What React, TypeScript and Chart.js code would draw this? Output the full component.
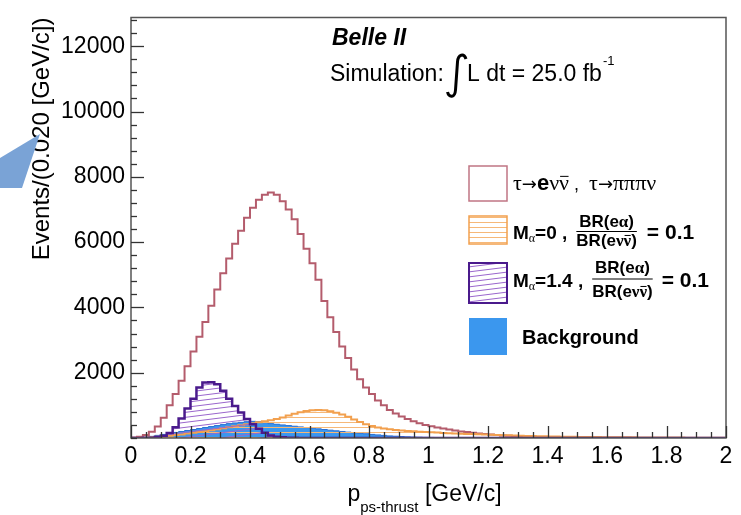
import React, { useEffect, useRef } from "react";
import { Chart, registerables } from "chart.js";

Chart.register(...registerables);

// ---------- axis / binning ----------
const X_MIN = 0;
const X_MAX = 2;
const BIN_WIDTH = 0.02;
const Y_MAX = 12880;
const X_TICK_VALUES = [0, 0.2, 0.4, 0.6, 0.8, 1, 1.2, 1.4, 1.6, 1.8, 2];
const X_TICK_LABELS = ["0", "0.2", "0.4", "0.6", "0.8", "1", "1.2", "1.4", "1.6", "1.8", "2"];
const Y_TICK_VALUES = [2000, 4000, 6000, 8000, 10000, 12000];
const Y_TICK_LABELS = ["2000", "4000", "6000", "8000", "10000", "12000"];
const X_MINOR_STEP = 0.05;
const Y_MINOR_STEP = 400;

// ---------- series (events per 0.02 GeV/c bin, 100 bins from 0 to 2) ----------
const sigTauEnu = [
  5, 15, 40, 90, 190, 350, 620, 1000, 1350, 1750,
  2200, 2650, 3100, 3550, 4050, 4550, 5050, 5500, 5950, 6350,
  6750, 7050, 7300, 7450, 7520, 7450, 7250, 7000, 6700, 6250,
  5800, 5350, 4850, 4200, 3700, 3250, 2800, 2450, 2100, 1800,
  1550, 1350, 1150, 1000, 860, 750, 660, 580, 510, 450,
  400, 360, 320, 290, 260, 230, 200, 180, 160, 140,
  125, 110, 95, 80, 70, 60, 50, 42, 35, 30,
  25, 22, 19, 16, 14, 12, 10, 9, 8, 7,
  6, 5, 5, 4, 4, 3, 3, 3, 2, 2,
  2, 2, 2, 1, 1, 1, 1, 1, 1, 1,
];

const sigM0 = [
  0, 2, 5, 10, 20, 35, 50, 70, 90, 110,
  135, 160, 185, 210, 240, 270, 300, 330, 360, 390,
  420, 450, 480, 510, 540, 580, 630, 690, 740, 790,
  825, 850, 858, 850, 820, 775, 720, 650, 570, 490,
  420, 365, 325, 292, 266, 246, 230, 215, 205, 195,
  185, 175, 165, 155, 148, 140, 133, 126, 120, 114,
  108, 100, 94, 88, 82, 76, 70, 65, 60, 56,
  52, 48, 45, 42, 39, 36, 34, 32, 30, 28,
  26, 24, 23, 22, 21, 20, 19, 18, 17, 16,
  15, 14, 13, 12, 11, 10, 9, 8, 7, 6,
];

const sigM14 = [
  0, 0, 2, 5, 10, 30, 70, 150, 330, 600,
  900, 1200, 1550, 1700, 1710, 1650, 1450, 1200, 980, 780,
  580, 420, 280, 160, 80, 40, 20, 10, 5, 3,
  2, 1, 0, 0, 0, 0, 0, 0, 0, 0,
  0, 0, 0, 0, 0, 0, 0, 0, 0, 0,
  0, 0, 0, 0, 0, 0, 0, 0, 0, 0,
  0, 0, 0, 0, 0, 0, 0, 0, 0, 0,
  0, 0, 0, 0, 0, 0, 0, 0, 0, 0,
  0, 0, 0, 0, 0, 0, 0, 0, 0, 0,
  0, 0, 0, 0, 0, 0, 0, 0, 0, 0,
];

const background = [
  0, 0, 5, 20, 50, 80, 110, 140, 170, 200,
  230, 260, 290, 320, 350, 380, 410, 440, 460, 480,
  500, 510, 500, 470, 440, 420, 400, 380, 360, 340,
  320, 300, 280, 260, 240, 220, 200, 180, 160, 145,
  130, 110, 95, 80, 65, 55, 45, 35, 30, 25,
  20, 17, 14, 12, 10, 8, 7, 6, 5, 4,
  3, 3, 2, 2, 1, 1, 0, 0, 0, 0,
  0, 0, 0, 0, 0, 0, 0, 0, 0, 0,
  0, 0, 0, 0, 0, 0, 0, 0, 0, 0,
  0, 0, 0, 0, 0, 0, 0, 0, 0, 0,
];

// ---------- styles ----------
const SANS = '"Liberation Sans", Arial, Helvetica, sans-serif';
const SERIF = '"Liberation Serif", "Times New Roman", serif';
const PINK = "#b45c6c";
const ORANGE = "#f2a04e";
const ORANGE_HATCH = "#f6b878";
const PURPLE = "#4a1a8c";
const PURPLE_HATCH = "#9a66cc";
const BLUE = "#3b97ee";
const BLUE_EDGE = "#2a6fd2";
const FRAME = "#555555";

function toSteps(values: number[]) {
  const pts = values.map((v, i) => ({ x: X_MIN + i * BIN_WIDTH, y: v }));
  pts.push({ x: X_MIN + values.length * BIN_WIDTH, y: values[values.length - 1] });
  return pts;
}

function makeHatch(color: string, slope: boolean): CanvasPattern | string {
  const c = document.createElement("canvas");
  const w = slope ? 40 : 8;
  const h = 5;
  c.width = w;
  c.height = h;
  const g = c.getContext("2d");
  if (!g) return color;
  g.strokeStyle = color;
  g.lineWidth = 1;
  for (let k = -1; k <= 1; k++) {
    g.beginPath();
    if (slope) {
      g.moveTo(0, 5 + k * 5 + 0.5);
      g.lineTo(40, k * 5 + 0.5);
    } else {
      g.moveTo(0, 2.5 + k * 5);
      g.lineTo(w, 2.5 + k * 5);
    }
    g.stroke();
  }
  const p = g.createPattern(c, "repeat");
  return p || color;
}

type Run = { t: string; f: string; dy?: number; bar?: boolean };

function runsWidth(ctx: CanvasRenderingContext2D, runs: Run[]) {
  let w = 0;
  for (const r of runs) {
    ctx.font = r.f;
    w += ctx.measureText(r.t).width;
  }
  return w;
}

function drawRuns(ctx: CanvasRenderingContext2D, x: number, y: number, runs: Run[], color: string) {
  ctx.fillStyle = color;
  ctx.strokeStyle = color;
  ctx.textAlign = "left";
  ctx.textBaseline = "alphabetic";
  for (const r of runs) {
    ctx.font = r.f;
    const w = ctx.measureText(r.t).width;
    ctx.fillText(r.t, x, y + (r.dy ?? 0));
    if (r.bar) {
      const m = r.f.match(/(\d+(\.\d+)?)px/);
      const size = m ? parseFloat(m[1]) : 16;
      const by = y + (r.dy ?? 0) - size * 0.62;
      ctx.lineWidth = 1;
      ctx.beginPath();
      ctx.moveTo(x + 1, by);
      ctx.lineTo(x + w - 0.5, by);
      ctx.stroke();
    }
    x += w;
  }
  return x;
}

function drawFraction(
  ctx: CanvasRenderingContext2D,
  x: number,
  num: Run[],
  den: Run[],
  numY: number,
  lineY: number,
  denY: number,
) {
  const nw = runsWidth(ctx, num);
  const dw = runsWidth(ctx, den);
  const fw = Math.max(nw, dw);
  drawRuns(ctx, x + (fw - nw) / 2, numY, num, "#000");
  drawRuns(ctx, x + (fw - dw) / 2, denY, den, "#000");
  ctx.strokeStyle = "#000";
  ctx.lineWidth = 1.2;
  ctx.beginPath();
  ctx.moveTo(x, lineY);
  ctx.lineTo(x + fw, lineY);
  ctx.stroke();
  return x + fw;
}

const decorPlugin = {
  id: "decor",
  afterDatasetsDraw(chart: any) {
    const ctx: CanvasRenderingContext2D = chart.ctx;
    const { left, right, top, bottom } = chart.chartArea;
    const xs = chart.scales.x;
    const ys = chart.scales.y;
    ctx.save();

    // frame
    ctx.strokeStyle = FRAME;
    ctx.lineWidth = 1.5;
    ctx.strokeRect(left, top, right - left, bottom - top);

    // ticks (inside)
    ctx.strokeStyle = "#333";
    ctx.lineWidth = 1.3;
    const nY = Math.floor(Y_MAX / Y_MINOR_STEP);
    for (let i = 0; i <= nY; i++) {
      const v = i * Y_MINOR_STEP;
      const major = Y_TICK_VALUES.includes(v);
      const py = Math.round(ys.getPixelForValue(v)) + 0.5;
      ctx.beginPath();
      ctx.moveTo(left, py);
      ctx.lineTo(left + (major ? 13 : 6), py);
      ctx.stroke();
    }
    const nX = Math.round((X_MAX - X_MIN) / X_MINOR_STEP);
    for (let i = 0; i <= nX; i++) {
      const v = X_MIN + i * X_MINOR_STEP;
      const major = i % 4 === 0;
      const px = Math.round(xs.getPixelForValue(v)) + 0.5;
      ctx.beginPath();
      ctx.moveTo(px, bottom);
      ctx.lineTo(px, bottom - (major ? 12 : 6));
      ctx.stroke();
    }

    // axis titles
    ctx.fillStyle = "#000";
    ctx.save();
    ctx.translate(49, top);
    ctx.rotate(-Math.PI / 2);
    ctx.font = `24px ${SANS}`;
    ctx.textAlign = "right";
    ctx.textBaseline = "alphabetic";
    ctx.fillText("Events/(0.020 [GeV/c])", 0, 0);
    ctx.restore();

    const xTitle: Run[] = [
      { t: "p", f: `23px ${SANS}` },
      { t: "ps-thrust", f: `15px ${SANS}`, dy: 11 },
      { t: " [GeV/c]", f: `23px ${SANS}` },
    ];
    const xtw = runsWidth(ctx, xTitle);
    drawRuns(ctx, (left + right) / 2 - xtw / 2 - 4, 501, xTitle, "#000");

    // annotations
    ctx.fillStyle = "#000";
    ctx.font = `italic bold 23px ${SANS}`;
    ctx.textAlign = "left";
    ctx.fillText("Belle II", 332, 45);
    ctx.font = `23px ${SANS}`;
    ctx.fillText("Simulation:", 330, 81);
    // integral sign
    ctx.strokeStyle = "#000";
    ctx.lineWidth = 3;
    ctx.beginPath();
    ctx.moveTo(466, 59);
    ctx.bezierCurveTo(464, 53, 458, 54, 457.5, 62);
    ctx.lineTo(455.5, 90);
    ctx.bezierCurveTo(455, 98, 449, 98, 447.5, 92);
    ctx.stroke();
    ctx.font = `23px ${SANS}`;
    ctx.fillText("L dt = 25.0 fb", 467, 81);
    const lw = ctx.measureText("L dt = 25.0 fb").width;
    ctx.font = `13px ${SANS}`;
    ctx.fillText("-1", 467 + lw + 1, 65);

    // legend boxes
    const bx = 469;
    const bw = 38;
    ctx.fillStyle = "#fff";
    ctx.fillRect(bx, 166, bw, 35);
    ctx.strokeStyle = "#c07584";
    ctx.lineWidth = 1.5;
    ctx.strokeRect(bx, 166, bw, 35);

    ctx.fillStyle = chart.$hatchO;
    ctx.fillRect(bx, 216, bw, 28);
    ctx.strokeStyle = ORANGE;
    ctx.strokeRect(bx, 216, bw, 28);

    ctx.fillStyle = chart.$hatchP;
    ctx.fillRect(bx, 263, bw, 40);
    ctx.strokeStyle = PURPLE;
    ctx.lineWidth = 2;
    ctx.strokeRect(bx, 263, bw, 40);

    ctx.fillStyle = BLUE;
    ctx.fillRect(bx, 318, bw, 37);

    // legend texts
    const sg = `22px ${SERIF}`;
    const ar = `18px "DejaVu Sans", ${SANS}`;
    drawRuns(ctx, 513, 190, [
      { t: "τ", f: sg },
      { t: "→", f: ar },
      { t: "e", f: `bold 22px ${SANS}` },
      { t: "ν", f: sg },
      { t: "ν", f: sg, bar: true },
      { t: " ,  ", f: `18px ${SANS}` },
      { t: "τ", f: sg },
      { t: "→", f: ar },
      { t: "πππν", f: sg },
    ], "#000");

    const b19 = `bold 19px ${SANS}`;
    const b16 = `bold 17px ${SANS}`;
    const g16 = `bold 17px ${SERIF}`;
    const num: Run[] = [{ t: "BR(e", f: b16 }, { t: "α", f: g16 }, { t: ")", f: b16 }];
    const den: Run[] = [
      { t: "BR(e", f: b16 },
      { t: "ν", f: g16 },
      { t: "ν", f: g16, bar: true },
      { t: ")", f: b16 },
    ];

    let cx = drawRuns(ctx, 513, 239, [
      { t: "M", f: b19 },
      { t: "α", f: `12px ${SERIF}`, dy: 3 },
      { t: "=0 ,", f: b19 },
    ], "#000");
    cx = drawFraction(ctx, cx + 9, num, den, 227, 231.5, 246);
    drawRuns(ctx, cx + 10, 239, [{ t: "= 0.1", f: `bold 21px ${SANS}` }], "#000");

    cx = drawRuns(ctx, 513, 287, [
      { t: "M", f: b19 },
      { t: "α", f: `12px ${SERIF}`, dy: 3 },
      { t: "=1.4 ,", f: b19 },
    ], "#000");
    cx = drawFraction(ctx, cx + 9, num, den, 273, 279, 297);
    drawRuns(ctx, cx + 9, 287, [{ t: "= 0.1", f: `bold 21px ${SANS}` }], "#000");

    drawRuns(ctx, 522, 344, [{ t: "Background", f: `bold 20px ${SANS}` }], "#000");

    // stray blue arrow tip at left edge of the picture
    ctx.fillStyle = "#7aa3d6";
    ctx.beginPath();
    ctx.moveTo(0, 158);
    ctx.lineTo(40, 134);
    ctx.lineTo(22, 188);
    ctx.lineTo(0, 188);
    ctx.closePath();
    ctx.fill();

    ctx.restore();
  },
};

export default function App() {
  const ref = useRef<HTMLCanvasElement | null>(null);

  useEffect(() => {
    const canvas = ref.current;
    if (!canvas) return;
    const hatchO = makeHatch(ORANGE_HATCH, false);
    const hatchP = makeHatch(PURPLE_HATCH, true);

    const chart: any = new Chart(canvas, {
      type: "line",
      data: {
        datasets: [
          {
            label: "M=1.4",
            data: toSteps(sigM14),
            stepped: "after",
            borderColor: PURPLE,
            borderWidth: 2.5,
            backgroundColor: hatchP as any,
            fill: "origin",
            pointRadius: 0,
            order: 0,
          },
          {
            label: "M=0",
            data: toSteps(sigM0),
            stepped: "after",
            borderColor: ORANGE,
            borderWidth: 2,
            backgroundColor: hatchO as any,
            fill: "origin",
            pointRadius: 0,
            order: 1,
          },
          {
            label: "tau",
            data: toSteps(sigTauEnu),
            stepped: "after",
            borderColor: PINK,
            borderWidth: 2,
            fill: false,
            pointRadius: 0,
            order: 2,
          },
          {
            label: "Background",
            data: toSteps(background),
            stepped: "after",
            borderColor: BLUE_EDGE,
            borderWidth: 1,
            backgroundColor: BLUE,
            fill: "origin",
            pointRadius: 0,
            order: 3,
          },
        ],
      },
      options: {
        animation: false,
        responsive: false,
        maintainAspectRatio: false,
        devicePixelRatio: 1,
        layout: { padding: { top: 13, right: 15, left: 0, bottom: 0 } },
        plugins: { legend: { display: false }, tooltip: { enabled: false } },
        scales: {
          x: {
            type: "linear",
            min: X_MIN,
            max: X_MAX,
            grid: { display: false, drawTicks: false },
            border: { display: false },
            afterBuildTicks: (s: any) => {
              s.ticks = X_TICK_VALUES.map((v) => ({ value: v }));
            },
            ticks: {
              autoSkip: false,
              maxRotation: 0,
              padding: 5,
              color: "#000",
              font: { family: SANS, size: 23 },
              callback: (v: any) => {
                const i = X_TICK_VALUES.findIndex((t) => Math.abs(t - Number(v)) < 1e-9);
                return i >= 0 ? X_TICK_LABELS[i] : "";
              },
            },
            afterFit: (s: any) => {
              s.height = 77;
            },
          },
          y: {
            type: "linear",
            min: 0,
            max: Y_MAX,
            grid: { display: false, drawTicks: false },
            border: { display: false },
            afterBuildTicks: (s: any) => {
              s.ticks = Y_TICK_VALUES.map((v) => ({ value: v }));
            },
            ticks: {
              autoSkip: false,
              padding: 6,
              color: "#000",
              font: { family: SANS, size: 23, lineHeight: 1 },
              callback: (v: any) => {
                const i = Y_TICK_VALUES.indexOf(Number(v));
                return i >= 0 ? Y_TICK_LABELS[i] : "";
              },
            },
            afterFit: (s: any) => {
              s.width = 131;
            },
          },
        },
      },
      plugins: [
        {
          id: "hatchStore",
          beforeInit(c: any) {
            c.$hatchO = hatchO;
            c.$hatchP = hatchP;
          },
        },
        decorPlugin,
      ],
    } as any);

    return () => chart.destroy();
  }, []);

  return (
    <div style={{ position: "absolute", left: 0, top: 0, width: 741, height: 515, background: "#fff" }}>
      <canvas ref={ref} width={741} height={515} style={{ display: "block", width: 741, height: 515 }} />
    </div>
  );
}
